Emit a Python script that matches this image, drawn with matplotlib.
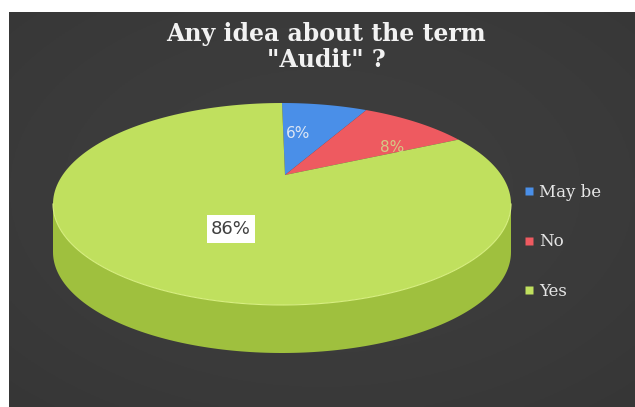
import numpy as np
import matplotlib.pyplot as plt
from matplotlib.patches import Polygon
from matplotlib.lines import Line2D

title = 'Any idea about the term\n"Audit" ?'
labels = ['May be', 'No', 'Yes']
values = [6, 8, 86]
pct_text = ['6%', '8%', '86%']

top_colors = ['#4a8fe8', '#ee5a60', '#c0e05e']
side_colors = ['#3a6fc0', '#c04048', '#9fc03e']

# pie geometry in pixel coords
cx, cy = 282, 204
a, b = 229, 101
depth = 48
apex = (285, 175)


def rim(theta):
    return cx + a * np.cos(theta), cy - b * np.sin(theta)


def main():
    fig = plt.figure(figsize=(6.35, 4.07), dpi=100)
    fig.patch.set_facecolor('white')
    ax = fig.add_axes([0, 0, 1, 1])
    ax.set_xlim(0, 635)
    ax.set_ylim(407, 0)
    ax.axis('off')

    # dark background panel with a soft gradient
    grad = np.linspace(0, 1, 200)
    gx, gy = np.meshgrid(grad, grad)
    shade = 0.24 - 0.05 * ((gx - 0.5) ** 2 + (gy - 0.45) ** 2)
    ax.imshow(np.dstack([shade, shade, shade]), extent=(9, 635, 407, 12),
              aspect='auto', zorder=0)

    total = float(sum(values))
    angles = [np.pi / 2]
    for v in values:
        angles.append(angles[-1] - 2 * np.pi * v / total)

    # side walls (front half only, angles between -pi and 0)
    for i in range(len(values)):
        lo = max(angles[i + 1], -np.pi)
        hi = min(angles[i], 0.0)
        if lo >= hi:
            continue
        th = np.linspace(lo, hi, 150)
        xs, ys = rim(th)
        pts = np.column_stack([np.r_[xs, xs[::-1]], np.r_[ys, ys[::-1] + depth]])
        ax.add_patch(Polygon(pts, closed=True, fc=side_colors[i], ec='none', zorder=2))

    # top faces
    for i in range(len(values)):
        th = np.linspace(angles[i], angles[i + 1], 200)
        xs, ys = rim(th)
        pts = np.column_stack([np.r_[apex[0], xs], np.r_[apex[1], ys]])
        ax.add_patch(Polygon(pts, closed=True, fc=top_colors[i], ec='none', zorder=3))

    # thin highlight on the front rim
    xs, ys = rim(np.linspace(-np.pi, 0, 200))
    ax.plot(xs, ys, color='#d8f080', lw=0.8, zorder=4)

    # data labels
    ax.text(298, 133, pct_text[0], color='#dce6f4', fontsize=11,
            ha='center', va='center', zorder=5)
    ax.text(392, 147, pct_text[1], color='#cfe58e', fontsize=11, alpha=0.8,
            ha='center', va='center', zorder=5)
    ax.text(231, 229, pct_text[2], color='#404040', fontsize=13,
            ha='center', va='center', zorder=5,
            bbox=dict(boxstyle='square,pad=0.25', fc='white', ec='none'))

    ax.text(326, 47, title, color='#f2f2f2', fontsize=17, fontweight='bold',
            family='DejaVu Serif', ha='center', va='center',
            linespacing=1.1, zorder=5)

    handles = [Line2D([], [], marker='s', ls='none', ms=6, mfc=c, mec='none')
               for c in top_colors]
    ax.legend(handles, labels, loc='upper left', bbox_to_anchor=(0.802, 0.585),
              frameon=False, handlelength=0.6, handletextpad=0.3,
              labelspacing=1.95, labelcolor='#e6e6e6',
              prop={'family': 'DejaVu Serif', 'size': 12})

    fig.savefig('out.png', dpi=100, facecolor='white')


if __name__ == '__main__':
    main()
